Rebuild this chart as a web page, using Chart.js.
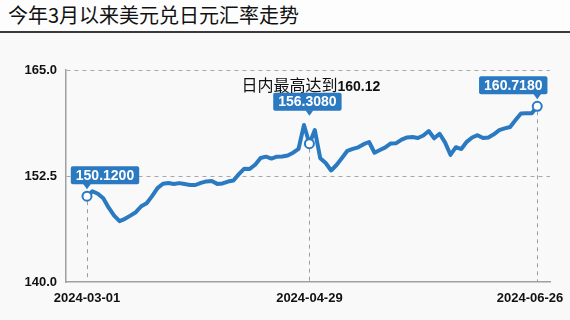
<!DOCTYPE html>
<html>
<head>
<meta charset="utf-8">
<script src="https://cdn.jsdelivr.net/npm/chart.js@4"></script>
<style>
body { margin: 0; background: #f9f9f9; }
#title { height: 31px; line-height: 31px; padding-left: 8px; border-bottom: 2px solid #3a3a3a;
  font: 20px "Noto Sans CJK SC", sans-serif; color: #111; background: #fdfdfd; }
#wrap { width: 570px; height: 287px; }
</style>
</head>
<body>
<div id="title">今年3月以来美元兑日元汇率走势</div>
<div id="wrap"><canvas id="fxChart"></canvas></div>
<script>
// trading days, 2024-03-01 .. 2024-06-26
var dates = [
  '2024-03-01', '2024-03-04', '2024-03-05', '2024-03-06', '2024-03-07', '2024-03-08',
  '2024-03-11', '2024-03-12', '2024-03-13', '2024-03-14', '2024-03-15',
  '2024-03-18', '2024-03-19', '2024-03-20', '2024-03-21', '2024-03-22',
  '2024-03-25', '2024-03-26', '2024-03-27', '2024-03-28', '2024-03-29',
  '2024-04-01', '2024-04-02', '2024-04-03', '2024-04-04', '2024-04-05',
  '2024-04-08', '2024-04-09', '2024-04-10', '2024-04-11', '2024-04-12',
  '2024-04-15', '2024-04-16', '2024-04-17', '2024-04-18', '2024-04-19',
  '2024-04-22', '2024-04-23', '2024-04-24', '2024-04-25', '2024-04-26',
  '2024-04-29', '2024-04-30', '2024-05-01', '2024-05-02', '2024-05-03',
  '2024-05-06', '2024-05-07', '2024-05-08', '2024-05-09', '2024-05-10',
  '2024-05-13', '2024-05-14', '2024-05-15', '2024-05-16', '2024-05-17',
  '2024-05-20', '2024-05-21', '2024-05-22', '2024-05-23', '2024-05-24',
  '2024-05-27', '2024-05-28', '2024-05-29', '2024-05-30', '2024-05-31',
  '2024-06-03', '2024-06-04', '2024-06-05', '2024-06-06', '2024-06-07',
  '2024-06-10', '2024-06-11', '2024-06-12', '2024-06-13', '2024-06-14',
  '2024-06-17', '2024-06-18', '2024-06-19', '2024-06-20', '2024-06-21',
  '2024-06-24', '2024-06-25', '2024-06-26'
];

var rates = [
  150.12, 150.70, 150.40, 149.87, 148.76, 147.82,
  147.17, 147.45, 147.83, 148.23, 148.93,
  149.29, 150.13, 151.07, 151.58, 151.67,
  151.56, 151.66, 151.55, 151.44, 151.44,
  151.69, 151.86, 151.91, 151.57, 151.62,
  151.85, 151.96, 152.72, 153.36, 153.34,
  153.83, 154.62, 154.78, 154.56, 154.78,
  154.79, 154.92, 155.25, 155.71, 158.51,
  156.308, 157.92, 154.59, 154.03, 153.15,
  153.80, 154.62, 155.47, 155.70, 155.88,
  156.25, 156.51, 155.24, 155.57, 155.88,
  156.34, 156.37, 156.79, 157.05, 157.09,
  156.98, 157.28, 157.80, 156.95, 157.48,
  156.47, 155.00, 155.90, 155.68, 156.53,
  157.04, 157.31, 156.98, 157.05, 157.42,
  157.90, 158.11, 158.28, 159.10, 159.88,
  159.89, 159.89, 160.718
];

var markIdx = [0, 41, 83];           // labelled points / shown dates
var yTicks = [140, 152.5, 165];
var note = '日内最高达到';
var noteValue = '160.12';

var blue = '#2a79c1';

var points = rates.map(function (v, i) { return { x: i, y: v }; });

// callout placement relative to its point
var boxShift = [18, -2, -24];
var boxLift = [12, 33, 12];

var overlay = {
  id: 'overlay',
  beforeDatasetsDraw: function (chart) {
    var ctx = chart.ctx, xs = chart.scales.x, ys = chart.scales.y;
    ctx.save();
    ctx.strokeStyle = '#9c9c9c';
    ctx.lineWidth = 1;
    ctx.setLineDash([4, 4]);
    markIdx.forEach(function (i) {
      var px = Math.round(xs.getPixelForValue(i)) + 0.5;
      var py = ys.getPixelForValue(rates[i]);
      ctx.beginPath();
      ctx.moveTo(px, py + 5);
      ctx.lineTo(px, chart.chartArea.bottom);
      ctx.stroke();
    });
    ctx.restore();
  },
  afterDatasetsDraw: function (chart) {
    var ctx = chart.ctx, xs = chart.scales.x, ys = chart.scales.y;
    ctx.save();
    ctx.font = 'bold 14px "Liberation Sans", Arial, sans-serif';
    ctx.textAlign = 'center';
    ctx.textBaseline = 'middle';
    markIdx.forEach(function (i, k) {
      var px = xs.getPixelForValue(i);
      var py = ys.getPixelForValue(rates[i]);
      var txt = rates[i].toFixed(4);
      var w = ctx.measureText(txt).width + 10, h = 18;
      var cx = px + boxShift[k];
      var bottom = py - boxLift[k];
      ctx.fillStyle = blue;
      ctx.beginPath();
      ctx.roundRect(cx - w / 2, bottom - h, w, h, 2);
      ctx.fill();
      ctx.beginPath();
      ctx.moveTo(px - 4, bottom - 0.5);
      ctx.lineTo(px + 4, bottom - 0.5);
      ctx.lineTo(px, bottom + 5);
      ctx.closePath();
      ctx.fill();
      ctx.fillStyle = '#ffffff';
      ctx.fillText(txt, cx, bottom - h / 2 + 0.5);
    });

    // intraday high note
    var nx = xs.getPixelForValue(markIdx[1]) - 68;
    var ny = chart.chartArea.top + 21;
    ctx.textAlign = 'left';
    ctx.textBaseline = 'alphabetic';
    ctx.fillStyle = '#111';
    ctx.font = '16px "Noto Sans CJK SC", sans-serif';
    ctx.fillText(note, nx, ny);
    var nw = ctx.measureText(note).width;
    ctx.font = 'bold 14px "Liberation Sans", Arial, sans-serif';
    ctx.fillText(noteValue, nx + nw, ny);
    ctx.restore();
  }
};

var ctx = document.getElementById('fxChart').getContext('2d');

var fxChart = new Chart(ctx, {
  type: 'line',
  data: {
    datasets: [{
      data: points,
      borderColor: blue,
      borderWidth: 4,
      borderJoinStyle: 'round',
      borderCapStyle: 'round',
      tension: 0,
      pointRadius: function (c) { return markIdx.indexOf(c.dataIndex) >= 0 ? 4.5 : 0; },
      pointBackgroundColor: '#ffffff',
      pointBorderColor: blue,
      pointBorderWidth: 2
    }]
  },
  options: {
    responsive: true,
    maintainAspectRatio: false,
    animation: false,
    layout: { padding: { top: 37, right: 20, left: 0, bottom: 0 } },
    plugins: {
      legend: { display: false },
      tooltip: { enabled: false }
    },
    scales: {
      x: {
        type: 'linear',
        min: -3.87,
        max: 85.35,
        afterBuildTicks: function (s) { s.ticks = markIdx.map(function (v) { return { value: v }; }); },
        afterFit: function (s) { s.height = 38; s.paddingLeft = 0; s.paddingRight = 0; },
        grid: { display: false, drawTicks: false },
        border: { display: true, color: '#a0a0a0', width: 1.5 },
        ticks: {
          autoSkip: false,
          maxRotation: 0,
          padding: 9,
          color: '#111',
          font: { family: '"Liberation Sans", Arial, sans-serif', size: 13, weight: 'bold' },
          // last label sits a little left of its point so it stays inside the page
          callback: function (v) { return v === rates.length - 1 ? dates[v] + '    ' : dates[v]; }
        }
      },
      y: {
        min: 140,
        max: 165,
        afterBuildTicks: function (s) { s.ticks = yTicks.map(function (v) { return { value: v }; }); },
        afterFit: function (s) { s.width = 66; },
        grid: {
          drawTicks: false,
          color: function (c) { return c.tick && c.tick.value === 140 ? 'rgba(0,0,0,0)' : '#a8a8a8'; },
          lineWidth: 1
        },
        border: { display: true, color: '#a0a0a0', width: 1.5, dash: [4, 4] },
        ticks: {
          padding: 9,
          color: '#111',
          font: { family: '"Liberation Sans", Arial, sans-serif', size: 13, weight: 'bold' },
          callback: function (v) { return v.toFixed(1); }
        }
      }
    }
  },
  plugins: [overlay]
});
</script>
</body>
</html>
